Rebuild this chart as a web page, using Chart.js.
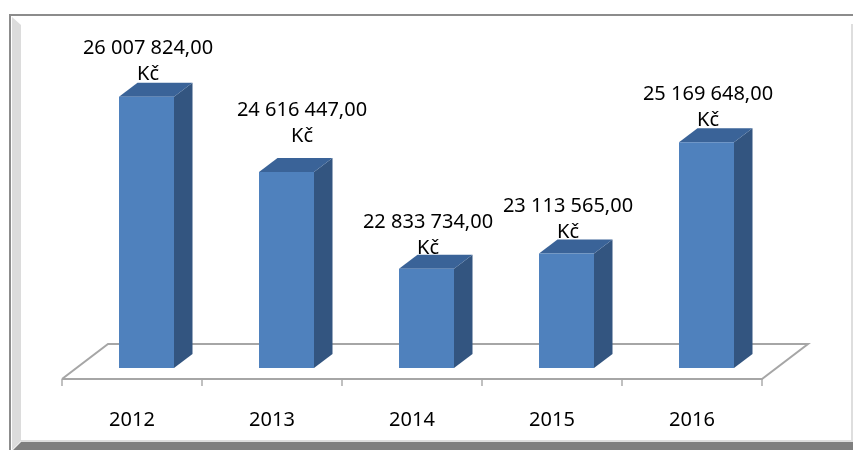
<!DOCTYPE html>
<html>
<head>
<meta charset="utf-8">
<title>Kč 2012-2016</title>
<script src="https://cdn.jsdelivr.net/npm/chart.js@4/dist/chart.umd.js"></script>
<style>
  html, body { margin: 0; padding: 0; background: #fff; overflow: hidden; }
  #wrap { width: 853px; height: 450px; }
</style>
</head>
<body>
<div id="wrap"><canvas id="chart" width="853" height="450"></canvas></div>
<script>
const years = ['2012', '2013', '2014', '2015', '2016']
const amounts = [26007824, 24616447, 22833734, 23113565, 25169648]
const currency = 'Kč'

const FONT = '"Noto Sans", sans-serif'

// the floor of the fake 3D box: the bars stand in the middle of it
const FLOOR_DX = 46
const FLOOR_DY = 35
const BAR_SHIFT_X = 14.5
const BAR_SHIFT_Y = 11
const BAR_DX = 18.5
const BAR_DY = 14

function formatAmount(value) {
  return String(value).replace(/\B(?=(\d{3})+$)/g, ' ') + ',00'
}

function poly(ctx, points, color) {
  ctx.fillStyle = color
  ctx.beginPath()
  points.forEach(([x, y], i) => (i ? ctx.lineTo(x, y) : ctx.moveTo(x, y)))
  ctx.closePath()
  ctx.fill()
}

// picture frame around the chart, like the bevel in the original
const framePlugin = {
  id: 'frame',
  beforeDraw({ ctx, width, height }) {
    ctx.save()
    ctx.fillStyle = '#fff'
    ctx.fillRect(0, 0, width, height)
    poly(ctx, [[12, 17], [21, 25], [21, 441], [12, 450]], '#dcdcdc')
    poly(ctx, [[21, 442], [width, 442], [width, height], [13, height]], '#7f7f7f')
    ctx.fillStyle = '#dedede'
    ctx.fillRect(21, 440, width - 21, 2)
    ctx.fillRect(851, 24, 2, 418)
    ctx.fillStyle = '#8c8c8c'
    ctx.fillRect(9, 14, width - 9, 2)
    ctx.fillRect(9, 14, 2, height - 14)
    ctx.restore()
  }
}

const floorPlugin = {
  id: 'floor',
  beforeDatasetsDraw(chart) {
    const { ctx, scales: { x, y } } = chart
    const left = x.left - BAR_SHIFT_X
    const right = x.right - BAR_SHIFT_X
    const front = y.bottom + BAR_SHIFT_Y
    const back = front - FLOOR_DY

    ctx.save()
    ctx.strokeStyle = '#a6a6a6'
    ctx.lineWidth = 2
    ctx.beginPath()
    ctx.moveTo(left, front)
    ctx.lineTo(left + FLOOR_DX, back)
    ctx.lineTo(right + FLOOR_DX, back)
    ctx.lineTo(right, front)
    ctx.lineTo(left, front)
    ctx.stroke()

    const step = (right - left) / years.length
    ctx.lineWidth = 1.4
    ctx.beginPath()
    for (let i = 0; i <= years.length; i++) {
      ctx.moveTo(left + step * i, front)
      ctx.lineTo(left + step * i, front + 7)
    }
    ctx.stroke()

    // side and top faces of each bar
    chart.getDatasetMeta(0).data.forEach((bar) => {
      const l = bar.x - bar.width / 2
      const r = bar.x + bar.width / 2
      poly(ctx, [[r, bar.y], [r + BAR_DX, bar.y - BAR_DY], [r + BAR_DX, y.bottom - BAR_DY], [r, y.bottom]], '#335580')
      poly(ctx, [[l, bar.y], [l + BAR_DX, bar.y - BAR_DY], [r + BAR_DX, bar.y - BAR_DY], [r, bar.y]], '#3a6398')
    })
    ctx.restore()
  }
}

// the second label was dragged aside by hand in the original
const labelNudge = { 1: [14, -14], 2: [0, 2], 3: [0, 1] }

const labelPlugin = {
  id: 'amountLabels',
  afterDatasetsDraw(chart) {
    const { ctx } = chart
    ctx.save()
    ctx.fillStyle = '#000'
    ctx.font = '20px ' + FONT
    ctx.textAlign = 'center'
    ctx.textBaseline = 'middle'
    chart.getDatasetMeta(0).data.forEach((bar, i) => {
      const [dx, dy] = labelNudge[i] || [0, 0]
      const cx = bar.x + 1.5 + dx
      ctx.fillText(formatAmount(amounts[i]), cx, bar.y - 48 + dy)
      ctx.fillText(currency, cx, bar.y - 22 + dy)
    })
    ctx.restore()
  }
}

new Chart(document.getElementById('chart'), {
  type: 'bar',
  data: {
    labels: years,
    datasets: [
      {
        data: amounts,
        backgroundColor: '#4f81bd',
        barPercentage: 1,
        categoryPercentage: 55 / 140
      }
    ]
  },
  options: {
    responsive: false,
    animation: false,
    layout: { padding: { left: 76.5, right: 76.5, top: 43, bottom: 0 } },
    plugins: { legend: { display: false }, tooltip: { enabled: false } },
    scales: {
      x: {
        afterFit(scale) {
          scale.height = 82
        },
        grid: { display: false },
        border: { display: false },
        ticks: {
          color: '#000',
          font: { family: FONT, size: 20 },
          padding: 32,
          labelOffset: -BAR_SHIFT_X,
          maxRotation: 0
        }
      },
      y: { display: false, min: 21000000, max: 27000000 }
    }
  },
  plugins: [framePlugin, floorPlugin, labelPlugin]
})
</script>
</body>
</html>
